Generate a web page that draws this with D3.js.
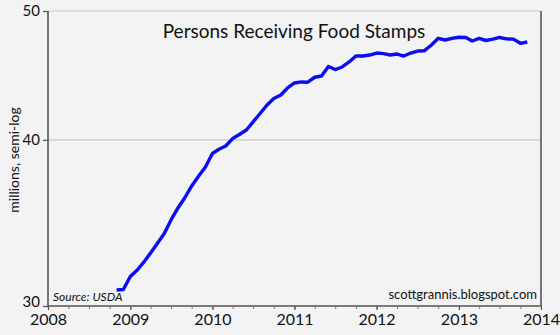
<!DOCTYPE html>
<html>
<head>
<meta charset="utf-8">
<script src="https://cdn.jsdelivr.net/npm/d3@7/dist/d3.min.js"></script>
<style>
  html, body { margin: 0; padding: 0; background: #f3f3f3; }
  svg { display: block; }
  text { font-family: "Lato", "DejaVu Sans", sans-serif; fill: #111; }
</style>
</head>
<body>
<svg id="chart" width="560" height="335"></svg>
<script>
// Monthly SNAP participation, millions of persons
const months = [
  "2008-11","2008-12",
  "2009-01","2009-02","2009-03","2009-04","2009-05","2009-06","2009-07","2009-08","2009-09","2009-10","2009-11","2009-12",
  "2010-01","2010-02","2010-03","2010-04","2010-05","2010-06","2010-07","2010-08","2010-09","2010-10","2010-11","2010-12",
  "2011-01","2011-02","2011-03","2011-04","2011-05","2011-06","2011-07","2011-08","2011-09","2011-10","2011-11","2011-12",
  "2012-01","2012-02","2012-03","2012-04","2012-05","2012-06","2012-07","2012-08","2012-09","2012-10","2012-11","2012-12",
  "2013-01","2013-02","2013-03","2013-04","2013-05","2013-06","2013-07","2013-08","2013-09","2013-10","2013-11"
];
const persons = [
  30.84, 30.87,
  31.57, 31.93, 32.35, 32.88, 33.43, 34.01, 34.82, 35.55, 36.20, 36.93, 37.57, 38.16,
  39.07, 39.37, 39.58, 40.09, 40.37, 40.69, 41.26, 41.87, 42.49, 42.97, 43.23, 43.76,
  44.14, 44.22, 44.20, 44.58, 44.68, 45.42, 45.18, 45.38, 45.78, 46.25, 46.25, 46.33,
  46.49, 46.44, 46.33, 46.41, 46.25, 46.49, 46.65, 46.68, 47.14, 47.69, 47.55, 47.68,
  47.78, 47.76, 47.47, 47.68, 47.51, 47.62, 47.76, 47.64, 47.62, 47.28, 47.39
];
const yTicks = [30, 40, 50];
const yearTicks = [2008, 2009, 2010, 2011, 2012, 2013, 2014];

const titleText = "Persons Receiving Food Stamps";
const yTitle = "millions, semi-log";
const sourceText = "Source: USDA";
const creditText = "scottgrannis.blogspot.com";

const svg = d3.select("#chart");
const L = 48, R = 541, T = 11, B = 306;

const parseMonth = d3.timeParse("%Y-%m");
const series = months.map((m, i) => ({ date: parseMonth(m), value: persons[i] }));

const x = d3.scaleTime()
  .domain([new Date(yearTicks[0], 0, 1), new Date(yearTicks[yearTicks.length - 1], 0, 1)])
  .range([L, R]);
const y = d3.scaleLog().domain([30, 50]).range([B, T]);

// light horizontal gridlines (40 and the top at 50)
svg.append("g")
  .selectAll("line")
  .data(yTicks.filter(v => v > 30))
  .join("line")
  .attr("x1", L).attr("x2", R)
  .attr("y1", d => y(d)).attr("y2", d => y(d))
  .attr("stroke", "#b9ccd4").attr("stroke-width", 1.2);

// frame: left, right and bottom in dark gray
const frame = svg.append("g").attr("stroke", "#555").attr("stroke-width", 1.6).attr("fill", "none");
frame.append("line").attr("x1", L).attr("x2", L).attr("y1", T).attr("y2", B);
frame.append("line").attr("x1", R).attr("x2", R).attr("y1", T).attr("y2", B);
frame.append("line").attr("x1", L).attr("x2", R).attr("y1", B).attr("y2", B);

// y axis ticks and labels
const yAxis = d3.axisLeft(y).tickValues(yTicks).tickFormat(d3.format("d")).tickSize(5).tickPadding(3);
const gy = svg.append("g").attr("transform", `translate(${L},0)`).call(yAxis);
gy.select(".domain").remove();
gy.selectAll(".tick line").attr("stroke", "#555").attr("stroke-width", 1.2);
gy.selectAll(".tick text")
  .style("font-family", "Lato, 'DejaVu Sans', sans-serif")
  .style("font-size", "15px").attr("fill", "#111")
  .attr("dy", d => d === 30 ? "0.05em" : "0.32em");

// x axis: quarterly minor ticks, year labels
const quarterTicks = d3.timeMonth.every(3).range(x.domain()[0], x.domain()[1]);
const xMinor = d3.axisBottom(x).tickValues(quarterTicks).tickFormat("").tickSize(3);
const gxm = svg.append("g").attr("transform", `translate(0,${B})`).call(xMinor);
gxm.select(".domain").remove();
gxm.selectAll(".tick line").attr("stroke", "#777").attr("stroke-width", 1);

const xAxis = d3.axisBottom(x)
  .tickValues(yearTicks.map(yr => new Date(yr, 0, 1)))
  .tickFormat(d3.timeFormat("%Y"))
  .tickSize(4).tickPadding(4);
const gx = svg.append("g").attr("transform", `translate(0,${B})`).call(xAxis);
gx.select(".domain").remove();
gx.selectAll(".tick line").attr("stroke", "#555").attr("stroke-width", 1.2);
gx.selectAll(".tick text")
  .style("font-family", "Lato, 'DejaVu Sans', sans-serif")
  .style("font-size", "16px").attr("fill", "#111");

// data line
const line = d3.line().x(d => x(d.date)).y(d => y(d.value));
svg.append("path")
  .datum(series)
  .attr("d", line)
  .attr("fill", "none")
  .attr("stroke", "#0c0cf0")
  .attr("stroke-width", 3.4)
  .attr("stroke-linejoin", "round");

// title
svg.append("text")
  .attr("x", 294).attr("y", 38)
  .attr("text-anchor", "middle")
  .style("font-size", "19px")
  .text(titleText);

// y axis title
svg.append("text")
  .attr("transform", "translate(19,160) rotate(-90)")
  .attr("text-anchor", "middle")
  .style("font-size", "14px")
  .text(yTitle);

// source and credit
svg.append("text")
  .attr("x", 53).attr("y", 301)
  .style("font-size", "12px").style("font-style", "italic")
  .text(sourceText);
svg.append("text")
  .attr("x", 537).attr("y", 299)
  .attr("text-anchor", "end")
  .style("font-size", "13px")
  .text(creditText);
</script>
</body>
</html>
